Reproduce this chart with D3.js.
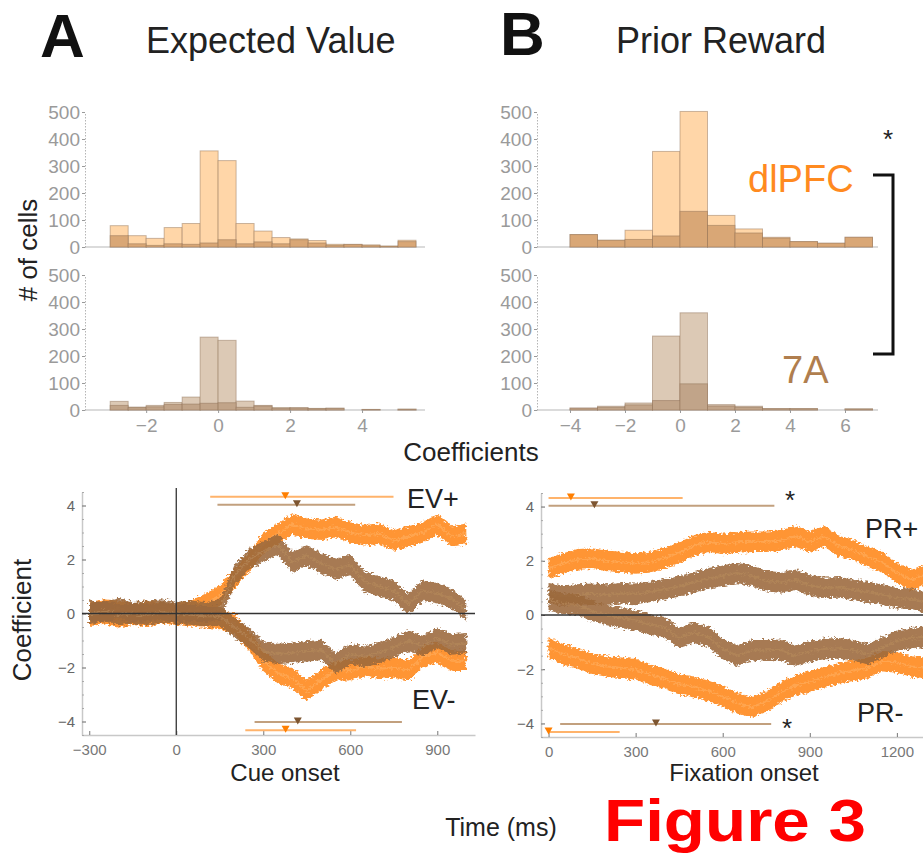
<!DOCTYPE html>
<html>
<head>
<meta charset="utf-8">
<script src="https://cdn.jsdelivr.net/npm/d3@7"></script>
<style>
  body { margin: 0; background: #fff; }
  svg { display: block; font-family: "Liberation Sans", Arial, sans-serif; }
</style>
</head>
<body>
<svg id="fig" width="923" height="854"></svg>
<script>
// ---- histogram data (# of cells per coefficient bin) ----
const evBins = [-3, -2.5, -2, -1.5, -1, -0.5, 0, 0.5, 1, 1.5, 2, 2.5, 3, 3.5, 4, 4.5, 5];
const evDlpfcAll = [79, 42, 32, 72, 87, 356, 320, 87, 59, 35, 30, 24, 10, 10, 8, 4, 25];
const evDlpfcSig = [42, 12, 6, 12, 10, 15, 27, 12, 19, 12, 27, 15, 6, 9, 5, 2, 20];
const ev7aAll = [32, 11, 17, 28, 48, 270, 258, 33, 17, 9, 9, 6, 7, 0, 2, 0, 3];
const ev7aSig = [17, 9, 12, 21, 22, 25, 27, 10, 15, 6, 7, 5, 6, 0, 2, 0, 3];

const prBins = [-4, -3, -2, -1, 0, 1, 2, 3, 4, 5, 6];
const prDlpfcAll = [46, 25, 62, 354, 502, 117, 67, 36, 20, 14, 36];
const prDlpfcSig = [46, 25, 28, 41, 132, 80, 52, 33, 20, 14, 36];
const pr7aAll = [7, 14, 26, 274, 360, 20, 14, 5, 5, 0, 4];
const pr7aSig = [7, 10, 19, 35, 97, 15, 10, 5, 5, 0, 4];

const countTicks = [0, 100, 200, 300, 400, 500];
const evCoefTicks = [-2, 0, 2, 4];
const prCoefTicks = [-4, -2, 0, 2, 4, 6];

// ---- time courses of mean coefficient ----
const cueTime = [-300, -250, -200, -150, -100, -50, 0, 50, 100, 150, 200, 250, 300, 350, 400,
  450, 500, 550, 600, 650, 700, 750, 800, 850, 900, 950, 1000];
const cueDlpfcPos = [0.05, 0.15, 0.1, 0.0, 0.1, 0.05, 0.0, 0.1, 0.35, 0.65, 1.3, 1.9, 2.6, 2.95, 3.3,
  3.15, 3.1, 3.2, 3.0, 2.9, 2.95, 2.7, 2.85, 3.0, 3.3, 2.85, 2.95];
const cueDlpfcNeg = [-0.1, 0.0, -0.15, -0.05, -0.1, 0.0, -0.05, -0.1, -0.15, -0.2, -0.4, -1.0, -1.75, -2.2, -2.4,
  -2.85, -2.45, -2.1, -2.1, -1.95, -2.05, -2.0, -2.1, -1.6, -1.45, -1.75, -1.75];
const cue7aPos = [0.1, 0.05, 0.2, 0.05, 0.1, 0.15, 0.05, 0.1, 0.05, 0.15, 1.4, 2.0, 2.3, 2.55, 1.9,
  2.15, 1.85, 1.65, 1.8, 1.17, 1.0, 0.85, 0.35, 0.85, 0.75, 0.55, 0.1];
const cue7aNeg = [-0.05, 0.1, -0.05, 0.0, -0.05, 0.05, 0.0, -0.05, -0.1, -0.1, -0.5, -0.9, -1.4, -1.5, -1.45,
  -1.4, -1.35, -1.85, -1.5, -1.6, -1.45, -1.25, -1.0, -1.2, -0.9, -1.15, -1.1];

const fixTime = [0, 50, 100, 150, 200, 250, 300, 350, 400, 450, 500, 550, 600, 650, 700,
  750, 800, 850, 900, 950, 1000, 1050, 1100, 1150, 1200, 1250, 1300];
const fixDlpfcPos = [1.72, 1.9, 2.05, 2.08, 2.0, 1.95, 1.9, 1.95, 2.1, 2.3, 2.55, 2.7, 2.62, 2.68, 2.7,
  2.7, 2.75, 2.9, 2.7, 2.9, 2.55, 2.4, 2.15, 1.95, 1.55, 1.3, 1.5];
const fixDlpfcNeg = [-1.2, -1.45, -1.6, -1.8, -1.9, -1.95, -2.0, -2.2, -2.35, -2.55, -2.65, -2.8, -3.0, -3.25, -3.4,
  -3.2, -2.85, -2.6, -2.45, -2.3, -2.15, -2.05, -1.95, -1.7, -1.75, -1.9, -1.95];
const fix7aPos = [0.8, 0.72, 0.75, 0.78, 0.75, 0.8, 0.78, 0.86, 0.95, 1.05, 1.2, 1.35, 1.45, 1.55, 1.45,
  1.25, 1.2, 1.3, 1.1, 1.0, 1.02, 0.92, 0.85, 0.75, 0.62, 0.6, 0.45];
const fix7aNeg = [0.55, 0.42, 0.38, 0.15, 0.0, -0.1, -0.2, -0.35, -0.45, -0.85, -0.65, -0.8, -1.25, -1.5, -1.3,
  -1.3, -1.28, -1.5, -1.35, -1.25, -1.23, -1.3, -1.45, -1.2, -0.95, -0.85, -0.8];
const semBand = 0.38;

// significant-latency bars: [dlPFC+, 7A+, 7A-, dlPFC-]
const sigKeys = ["dlPFC+", "7A+", "7A-", "dlPFC-"];
const cueSigStart = [117, 142, 270, 238];
const cueSigEnd = [749, 617, 778, 620];
const cueSigPeak = [376, 416, 419, 377];
const fixSigStart = [0, 0, 40, 0];
const fixSigEnd = [462, 778, 767, 245];
const fixSigPeak = [77, 158, 370, 0];

const cueTicks = [-300, 0, 300, 600, 900];
const fixTicks = [0, 300, 600, 900, 1200];
const coefTicks = [-4, -2, 0, 2, 4];

// ---- styles ----
const ORANGE = "#ff8a1f", BROWN = "#9b693c";
const dlpfcLight = "#ffd6a8", dlpfcDark = "#d9a776";
const a7Light = "#dcc9b5", a7Dark = "#c1a489";

const svg = d3.select("#fig");
const defs = svg.append("defs");
const rough = defs.append("filter").attr("id", "rough")
  .attr("x", "-3%").attr("y", "-15%").attr("width", "106%").attr("height", "130%");
rough.append("feTurbulence").attr("type", "fractalNoise").attr("baseFrequency", "0.35 0.5")
  .attr("numOctaves", 2).attr("seed", 4).attr("result", "noise");
rough.append("feDisplacementMap").attr("in", "SourceGraphic").attr("in2", "noise")
  .attr("scale", 7).attr("xChannelSelector", "R").attr("yChannelSelector", "G");

function styleAxis(g, color, size) {
  g.select(".domain").attr("stroke", color);
  g.selectAll(".tick line").attr("stroke", color);
  g.selectAll(".tick text").attr("fill", color).attr("font-size", size)
    .attr("font-family", "Liberation Sans, Arial, sans-serif");
}

function histogram(bins, binW, all, sig, x, y, light, dark, xTicks) {
  const g = svg.append("g");
  const x0 = x.range()[0], x1 = x.range()[1];
  g.append("line").attr("x1", x0).attr("x2", x1).attr("y1", y(0)).attr("y2", y(0))
    .attr("stroke", "#cfcfcf").attr("stroke-width", 1.5);
  const drawBars = (vals, fill) => g.append("g").selectAll("rect").data(bins).join("rect")
    .attr("x", d => x(d)).attr("width", d => x(d + binW) - x(d))
    .attr("y", (d, i) => y(vals[i])).attr("height", (d, i) => y(0) - y(vals[i]))
    .attr("fill", fill).attr("stroke", "#8a6a50").attr("stroke-opacity", 0.45).attr("stroke-width", 1);
  drawBars(all, light);
  drawBars(sig, dark);
  const ya = g.append("g").attr("transform", `translate(${x0},0)`)
    .call(d3.axisLeft(y).tickValues(countTicks).tickSize(3).tickSizeOuter(0).tickPadding(2));
  styleAxis(ya, "#9a9a9a", 19);
  ya.select(".domain").attr("stroke-dasharray", "1.5,1.5").attr("stroke", "#b5b5b5");
  if (xTicks) {
    const xa = g.append("g").attr("transform", `translate(0,${y(0)})`)
      .call(d3.axisBottom(x).tickValues(xTicks).tickSize(3).tickSizeOuter(0).tickPadding(6));
    styleAxis(xa, "#9a9a9a", 19);
    xa.select(".domain").remove();
  }
}

// Panel A histograms
const xEv = d3.scaleLinear().domain([-3.7, 5.75]).range([85, 425]);
const yTop = d3.scaleLinear().domain([0, 500]).range([247, 112]);
const yBot = d3.scaleLinear().domain([0, 500]).range([410, 275]);
histogram(evBins, 0.5, evDlpfcAll, evDlpfcSig, xEv, yTop, dlpfcLight, dlpfcDark, null);
histogram(evBins, 0.5, ev7aAll, ev7aSig, xEv, yBot, a7Light, a7Dark, evCoefTicks);

// Panel B histograms
const xPr = d3.scaleLinear().domain([-5.2, 7.2]).range([537, 878]);
histogram(prBins, 1, prDlpfcAll, prDlpfcSig, xPr, yTop, dlpfcLight, dlpfcDark, null);
histogram(prBins, 1, pr7aAll, pr7aSig, xPr, yBot, a7Light, a7Dark, prCoefTicks);

function linePanel(time, series, x, y, ticks, sig, showVertical) {
  const g = svg.append("g");
  const x0 = x.range()[0], x1 = x.range()[1];
  const yb = y.range()[0];
  // axes
  const xa = g.append("g").attr("transform", `translate(0,${yb})`)
    .call(d3.axisBottom(x).tickValues(ticks).tickSize(-4).tickSizeOuter(0).tickPadding(9)
      .tickFormat(d3.format("d")));
  styleAxis(xa, "#777", 15);
  xa.select(".domain").attr("stroke", "#c8c8c8").attr("stroke-width", 1.5);
  const ya = g.append("g").attr("transform", `translate(${x0},0)`)
    .call(d3.axisLeft(y).tickValues(coefTicks).tickSize(-4).tickSizeOuter(0).tickPadding(7));
  styleAxis(ya, "#666", 15);
  ya.select(".domain").attr("stroke", "#c8c8c8").attr("stroke-width", 1.5);
  const minor = g.append("g").attr("transform", `translate(${x0},0)`)
    .call(d3.axisLeft(y).ticks(18).tickSize(-2).tickFormat(""));
  minor.select(".domain").remove();
  minor.selectAll("line").attr("stroke", "#aaa");

  // bands
  const area = d3.area().x((d, i) => x(time[i]))
    .y0(d => y(d - semBand)).y1(d => y(d + semBand));
  const line = d3.line().x((d, i) => x(time[i])).y(d => y(d));
  const bands = g.append("g").attr("filter", "url(#rough)");
  series.forEach(s => {
    bands.append("path").datum(s.values).attr("d", area)
      .attr("fill", s.color).attr("fill-opacity", s.opacity);
    bands.append("path").datum(s.values).attr("d", line)
      .attr("fill", "none").attr("stroke", s.light).attr("stroke-width", 2).attr("stroke-opacity", 0.6);
  });

  // zero lines
  g.append("line").attr("x1", x0).attr("x2", x1).attr("y1", y(0)).attr("y2", y(0))
    .attr("stroke", "#333").attr("stroke-width", 1.5);
  if (showVertical) {
    g.append("line").attr("x1", x(0)).attr("x2", x(0)).attr("y1", y.range()[1] - 4).attr("y2", yb)
      .attr("stroke", "#333").attr("stroke-width", 1.3);
  }

  // latency bars
  const rowLevel = { "dlPFC+": 4.32, "7A+": 4.03, "7A-": -4.02, "dlPFC-": -4.32 };
  sigKeys.forEach((k, i) => {
    const isD = k.startsWith("dlPFC");
    const lv = y(rowLevel[k]);
    g.append("line").attr("x1", x(sig.start[i])).attr("x2", x(sig.end[i]))
      .attr("y1", lv).attr("y2", lv)
      .attr("stroke", isD ? "#ffb36b" : "#c2a07e").attr("stroke-width", 2);
    g.append("path").attr("d", "M-4,-4.5L4,-4.5L0,2.5Z")
      .attr("transform", `translate(${x(sig.peak[i])},${lv})`)
      .attr("fill", isD ? "#ff7f00" : "#7d5530");
  });
}

const yCoefL = d3.scaleLinear().domain([-4.5, 4.5]).range([735, 492]);
const xCue = d3.scaleLinear().domain([-325, 1030]).range([82, 475]);
linePanel(cueTime, [
  { values: cueDlpfcPos, color: ORANGE, light: "#ffb060", opacity: 0.9 },
  { values: cueDlpfcNeg, color: ORANGE, light: "#ffb060", opacity: 0.9 },
  { values: cue7aPos, color: BROWN, light: "#b88a5c", opacity: 0.88 },
  { values: cue7aNeg, color: BROWN, light: "#b88a5c", opacity: 0.88 }
], xCue, yCoefL, cueTicks, { start: cueSigStart, end: cueSigEnd, peak: cueSigPeak }, true);

const yCoefR = d3.scaleLinear().domain([-4.5, 4.5]).range([737, 493]);
const xFix = d3.scaleLinear().domain([-26, 1290]).range([541, 923]);
linePanel(fixTime, [
  { values: fixDlpfcPos, color: ORANGE, light: "#ffb060", opacity: 0.9 },
  { values: fixDlpfcNeg, color: ORANGE, light: "#ffb060", opacity: 0.9 },
  { values: fix7aPos, color: BROWN, light: "#b88a5c", opacity: 0.88 },
  { values: fix7aNeg, color: BROWN, light: "#b88a5c", opacity: 0.88 }
], xFix, yCoefR, fixTicks, { start: fixSigStart, end: fixSigEnd, peak: fixSigPeak }, false);

// ---- text ----
const txt = (x, y, s, size, opts = {}) => svg.append("text").attr("x", x).attr("y", y)
  .attr("font-size", size).attr("fill", opts.fill || "#222")
  .attr("font-weight", opts.weight || "normal")
  .attr("text-anchor", opts.anchor || "start").text(s);

txt(40, 57, "A", 62, { weight: "bold", fill: "#111" });
txt(146, 53, "Expected Value", 36);
txt(500, 55, "B", 62, { weight: "bold", fill: "#111" });
txt(616, 53, "Prior Reward", 36);

svg.append("text").attr("transform", "translate(37,250) rotate(-90)")
  .attr("text-anchor", "middle").attr("font-size", 26).attr("fill", "#222").text("# of cells");
svg.append("text").attr("transform", "translate(31,620) rotate(-90)")
  .attr("text-anchor", "middle").attr("font-size", 26).attr("fill", "#222").text("Coefficient");

txt(471, 461, "Coefficients", 26, { anchor: "middle" });
txt(748, 192, "dlPFC", 38, { fill: ORANGE });
txt(782, 383, "7A", 38, { fill: "#b07e4e" });
txt(888, 148, "*", 26, { anchor: "middle" });
svg.append("path").attr("d", "M873,175H893V354H873")
  .attr("fill", "none").attr("stroke", "#111").attr("stroke-width", 3);

txt(407, 508, "EV+", 27);
txt(412, 709, "EV-", 27);
txt(865, 538, "PR+", 27);
txt(857, 722, "PR-", 27);
txt(790, 509, "*", 26, { anchor: "middle" });
txt(787, 737, "*", 26, { anchor: "middle" });

txt(285, 781, "Cue onset", 24, { anchor: "middle" });
txt(744, 781, "Fixation onset", 24, { anchor: "middle" });
txt(501, 836, "Time (ms)", 25, { anchor: "middle" });
txt(604, 841, "Figure 3", 59, { weight: "bold", fill: "#ff0000" })
  .attr("textLength", 262).attr("lengthAdjust", "spacingAndGlyphs");
</script>
</body>
</html>
